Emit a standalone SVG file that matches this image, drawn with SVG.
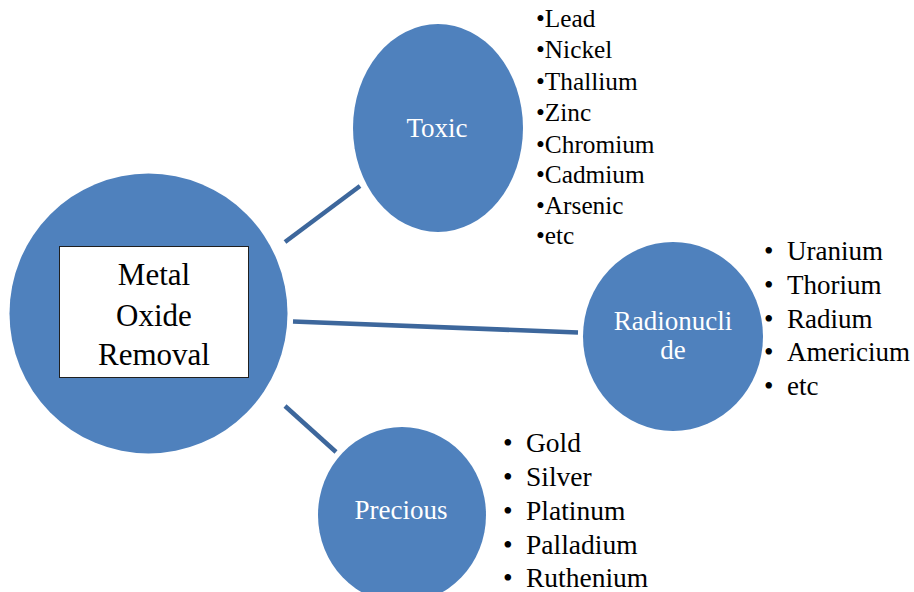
<svg xmlns="http://www.w3.org/2000/svg" width="914" height="592" viewBox="0 0 914 592" font-family="'Liberation Serif', 'Times New Roman', serif">
<style>
text{font-family:'Liberation Serif','Times New Roman',serif;}
.blob{fill:#4f81bd;}
.lbl{font-size:27px;fill:#ffffff;text-anchor:middle;}
.main{font-size:31px;fill:#000000;text-anchor:middle;}
.list{fill:#000000;}
.conn{stroke:#3d679c;stroke-width:4.5;stroke-linecap:butt;fill:none;}
</style>
<rect width="914" height="592" fill="#ffffff"/>
<g id="connectors">
<line class="conn" x1="285" y1="242" x2="360" y2="186"/>
<line class="conn" x1="293" y1="321.5" x2="578" y2="332.5"/>
<line class="conn" x1="285" y1="406" x2="336" y2="452"/>
</g>
<g id="node-main">
<ellipse class="blob" cx="148.5" cy="313.5" rx="139" ry="140"/>
<rect x="59.5" y="246.5" width="189" height="131" fill="#ffffff" stroke="#1f1f1f" stroke-width="1"/>
<text class="main" x="154" y="285">Metal</text>
<text class="main" x="154" y="326">Oxide</text>
<text class="main" x="154" y="365">Removal</text>
</g>
<g id="node-toxic">
<ellipse class="blob" cx="438" cy="128" rx="85" ry="104"/>
<text class="lbl" x="437" y="137">Toxic</text>
</g>
<g id="node-radionuclide">
<ellipse class="blob" cx="673" cy="336.5" rx="90" ry="94.5"/>
<text class="lbl" x="673" y="330">Radionucli</text>
<text class="lbl" x="673" y="359">de</text>
</g>
<g id="node-precious">
<ellipse class="blob" cx="402" cy="515" rx="84" ry="88"/>
<text class="lbl" x="401" y="519">Precious</text>
</g>
<g id="list-toxic" class="list" font-size="25.3">
<text x="536" y="27">•Lead</text>
<text x="536" y="58">•Nickel</text>
<text x="536" y="90">•Thallium</text>
<text x="536" y="121">•Zinc</text>
<text x="536" y="153">•Chromium</text>
<text x="536" y="183">•Cadmium</text>
<text x="536" y="214">•Arsenic</text>
<text x="536" y="244">•etc</text>
</g>
<g id="list-radionuclide" class="list" font-size="27">
<text x="764" y="260">•</text><text x="787" y="260">Uranium</text>
<text x="764" y="294">•</text><text x="787" y="294">Thorium</text>
<text x="764" y="328">•</text><text x="787" y="328">Radium</text>
<text x="764" y="361">•</text><text x="787" y="361">Americium</text>
<text x="764" y="395">•</text><text x="787" y="395">etc</text>
</g>
<g id="list-precious" class="list" font-size="27.5">
<text x="503" y="452">•</text><text x="526" y="452">Gold</text>
<text x="503" y="486">•</text><text x="526" y="486">Silver</text>
<text x="503" y="520">•</text><text x="526" y="520">Platinum</text>
<text x="503" y="554">•</text><text x="526" y="554">Palladium</text>
<text x="503" y="587">•</text><text x="526" y="587">Ruthenium</text>
</g>
</svg>
